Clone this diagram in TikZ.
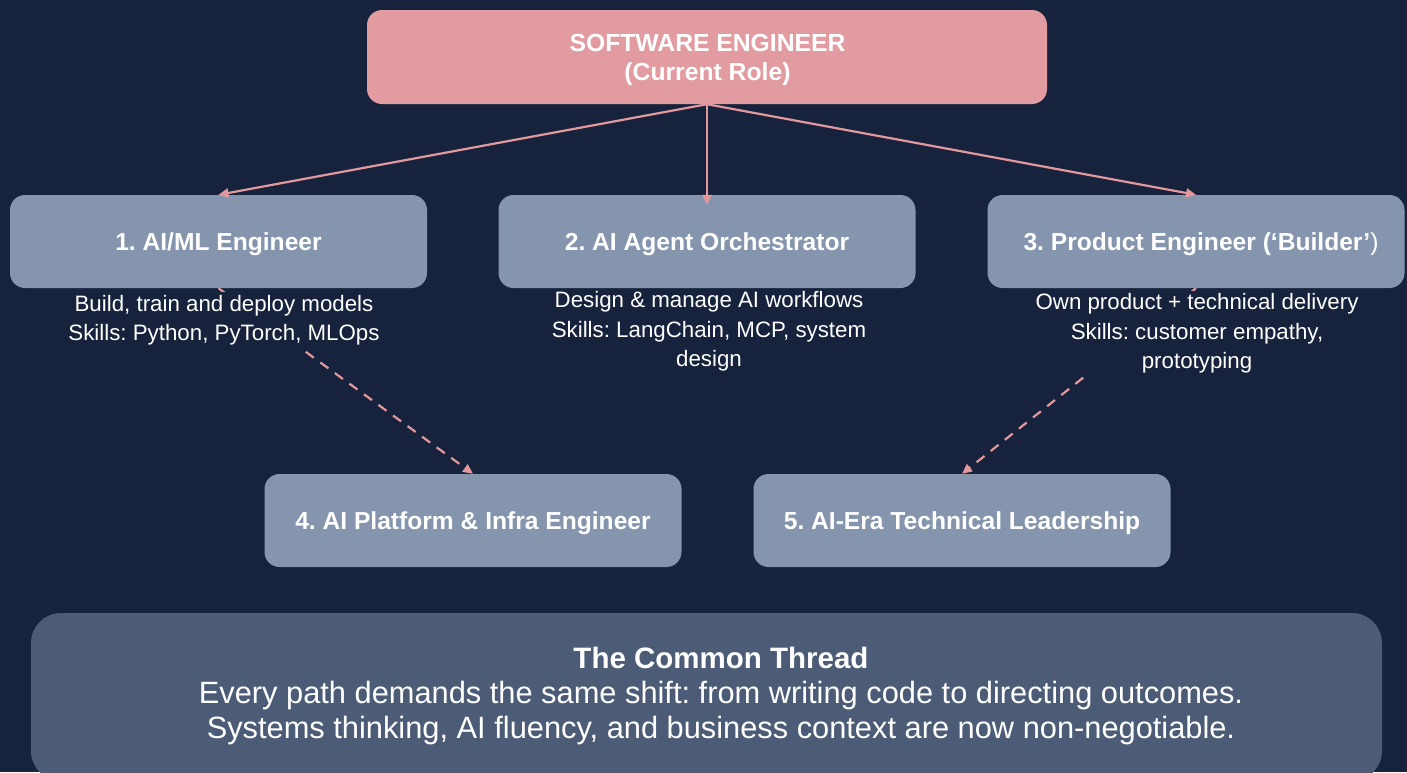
\documentclass[tikz,border=0pt]{standalone}
\usepackage{fontspec}
\setmainfont{Liberation Sans}
\usetikzlibrary{arrows.meta}
\frenchspacing

\definecolor{bgnavy}{HTML}{17233C}
\definecolor{rolepink}{HTML}{E29BA0}
\definecolor{pathgray}{HTML}{8495AD}
\definecolor{threadslate}{HTML}{4C5C76}
\definecolor{linkpink}{HTML}{E3989E}

\pgfdeclarelayer{canvas}
\pgfdeclarelayer{under}
\pgfsetlayers{canvas,under,main}

\begin{document}
\begin{tikzpicture}[x=1pt,y=-1pt,
  rolebox/.style={fill=rolepink, rounded corners=15pt, minimum width=680pt,
    minimum height=94pt, inner sep=0pt},
  roletext/.style={text=white, font=\fontsize{24.7}{29}\selectfont\bfseries,
    align=center, inner sep=0pt},
  pathbox/.style={fill=pathgray, rounded corners=15pt, minimum width=417pt,
    minimum height=93pt, inner sep=0pt, text=white,
    font=\fontsize{24.6}{29}\selectfont\bfseries, text height=17.5pt, text depth=0pt},
  note/.style={fill=bgnavy, text=white, font=\fontsize{22.3}{29.5}\selectfont,
    align=center, inner xsep=4pt, inner ysep=3pt, anchor=north},
  threadbox/.style={fill=threadslate, rounded corners=30pt, minimum width=1351pt,
    minimum height=168pt, inner sep=0pt},
  threadtext/.style={text=white, font=\fontsize{30.8}{35}\selectfont,
    align=center, inner sep=0pt},
  link/.style={draw=linkpink, line width=2.2pt,
    -{Triangle[length=10pt,width=9pt]}},
  dashlink/.style={link, dash pattern=on 10pt off 8pt},
]
\useasboundingbox (0,0) rectangle (1407,772);
\begin{pgfonlayer}{canvas}
  \fill[bgnavy] (0,0) rectangle (1407,772);
\end{pgfonlayer}

% current role
\node[rolebox] (top) at (707,57) {};
\node[roletext] (toptext) at (707.5,60) {SOFTWARE ENGINEER\\(Current Role)};

% description notes under the first row
\node[note] (n1) at (224,292) {Build, train and deploy models\\Skills: Python, PyTorch, MLOps};
\node[note] (n2) at (709,288.5) {Design \& manage AI workflows\\Skills: LangChain, MCP, system\\design};
\node[note] (n3) at (1197,290.5) {Own product + technical delivery\\Skills: customer empathy,\\prototyping};

% career paths
\node[pathbox] (b1) at (218.5,241.5) {1. AI/ML Engineer};
\node[pathbox] (b2) at (707,241.5) {2. AI Agent Orchestrator};
\node[pathbox] (b3) at (1196,241.5) {\hspace{10pt}3. Product Engineer (‘Builder’{\mdseries)}};
\node[pathbox] (b4) at (473,520.5) {4. AI Platform \& Infra Engineer};
\node[pathbox] (b5) at (962,520.5) {5. AI-Era Technical Leadership};

% common thread
\node[threadbox] (thread) at (706.5,697) {};
\node[threadtext] (threadmsg) at (721,696) {{\fontsize{29.5}{35}\selectfont\bfseries The Common Thread}\\
  Every path demands the same shift: from writing code to directing outcomes.\\
  Systems thinking, AI fluency, and business context are now non-negotiable.};

% second-step transitions, kept under the notes
\begin{pgfonlayer}{under}
  \draw[dashlink] (b1.south) -- (b4.north);
  \draw[dashlink] (b3.south) -- (b5.north);
\end{pgfonlayer}

% branches from the current role
\draw[link] (top.south) -- (b1.north);
\draw[link] (top.south) -- ([yshift=-10pt]b2.north);
\draw[link] (top.south) -- (b3.north);
\end{tikzpicture}
\end{document}
